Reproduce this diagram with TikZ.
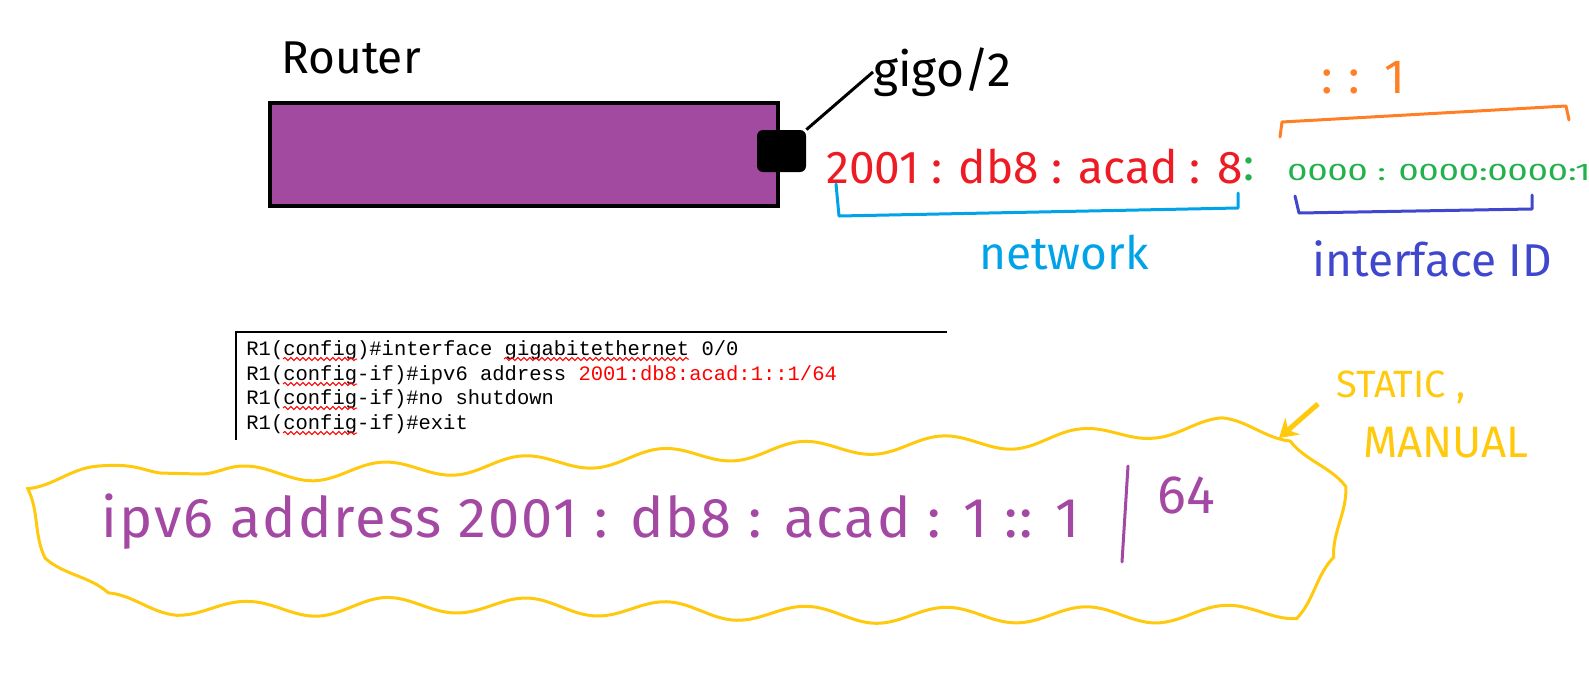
\documentclass[tikz,border=0pt]{standalone}
\usepackage{graphicx}
\usepackage{fontspec}
\setmainfont{Fira Sans}
\setmonofont{Liberation Mono}
\usetikzlibrary{decorations.pathmorphing,arrows.meta}
\definecolor{routerpurple}{RGB}{161,74,159}
\definecolor{penred}{RGB}{237,28,36}
\definecolor{pengreen}{RGB}{34,177,76}
\definecolor{penorange}{RGB}{255,127,39}
\definecolor{pencyan}{RGB}{0,162,232}
\definecolor{penblue}{RGB}{63,72,204}
\definecolor{penyellow}{RGB}{255,201,14}
\definecolor{penpurple}{RGB}{163,73,164}
\begin{document}
\begin{tikzpicture}[x=0.5pt, y=-0.5pt,
    pen/.style={line width=1.5pt, line cap=round, line join=round},
    hand/.style={inner sep=0pt, font=\fontsize{#1}{#1}\selectfont},
    cli/.style={anchor=base west, inner sep=0pt, font=\ttfamily\fontsize{10.25}{12}\selectfont},
    squiggle/.style={red, line width=0.5pt, decorate, decoration={snake, amplitude=0.8pt, segment length=3pt}}]
    \useasboundingbox (0,0) rectangle (1589,686);

    \node[hand=23] (routerlabel) at (351,58) {Router};
    \node[draw, line width=2pt, fill=routerpurple, minimum width=254pt, minimum height=51.5pt, inner sep=0pt] (router) at (524,154.5) {};
    \node[fill, rounded corners=3pt, minimum width=24.5pt, minimum height=21pt, inner sep=0pt] (port) at (781.5,151) {};
    \node[hand=24, anchor=west] (gigo) at (873,72) {gigo/2};
    \draw[line width=1.5pt] (port.north east) -- (gigo.west);

    \node[hand=23, text=penred, anchor=west] (netpart) at (826,167) {2001 : db8 : acad : 8};
    \node[hand=23, text=pengreen, anchor=west] (sep) at (1243,169) {:};
    \node[text=pengreen, anchor=west, inner sep=0pt] (hostpart) at (1287,172) {\fontsize{12}{12}\selectfont\scalebox{1.5}[1]{0000 : 0000:0000:1}};

    \draw[pen, penorange] (1280,137) -- (1282,122) -- (1566,106) -- (1569,120);
    \node[hand=24, text=penorange] (shortform) at (1363,78) {:\hspace{8pt}:\hspace{12pt}1};
    \draw[pen, pencyan] (836,184) -- (839,216) -- (1238,208) -- (1238,193);
    \node[hand=23, text=pencyan] (netlabel) at (1064,253) {network};
    \draw[pen, penblue] (1295,196) -- (1299,213) -- (1532,209) -- (1532,195);
    \node[hand=23, text=penblue] (idlabel) at (1432,259) {interface ID};

    \draw[line width=0.8pt] (236,440) -- (236,332) -- (947,332);
    \node[cli] (cmd1) at (246,355) {R1(config)\#interface gigabitethernet 0/0};
    \node[cli] (cmd2) at (246,380) {R1(config-if)\#ipv6 address \textcolor{red}{2001:db8:acad:1::1/64}};
    \node[cli] (cmd3) at (246,404) {R1(config-if)\#no shutdown};
    \node[cli] (cmd4) at (246,429) {R1(config-if)\#exit};
    \draw[squiggle] (283,359) -- (357,359);
    \draw[squiggle] (504,359) -- (689,359);
    \draw[squiggle] (283,384) -- (357,384);
    \draw[squiggle] (283,408) -- (357,408);
    \draw[squiggle] (283,433) -- (357,433);

    \draw[penyellow, line width=1.5pt, decorate, decoration={snake, amplitude=4pt, segment length=70pt}]
        plot[smooth cycle, tension=0.7] coordinates {(32,468) (200,474) (400,468) (600,458) (800,448) (1000,440) (1150,428) (1235,426) (1285,458) (1305,520) (1292,590) (1200,606) (1000,608) (800,608) (600,602) (400,598) (200,602) (56,586) (36,530)};
    \node[hand=28, text=penpurple, anchor=base west] (cmdhand) at (101,537) {\addfontfeature{LetterSpace=3.5}ipv6 address 2001 : db8 : acad : 1 :: 1};
    \draw[pen, penpurple] (1122,562) -- (1128,466);
    \node[hand=27, text=penpurple] (prefix) at (1186,495) {64};

    \node[hand=19, text=penyellow, anchor=west] (static) at (1336,387) {STATIC ,};
    \node[hand=22, text=penyellow] (manual) at (1446,443) {MANUAL};
    \coordinate (arrtip) at (1279,438);
    \draw[penyellow, line width=2.5pt, -{Stealth[length=9pt, width=11pt]}] ([xshift=-9pt]static.south west) -- (arrtip);
\end{tikzpicture}
\end{document}
